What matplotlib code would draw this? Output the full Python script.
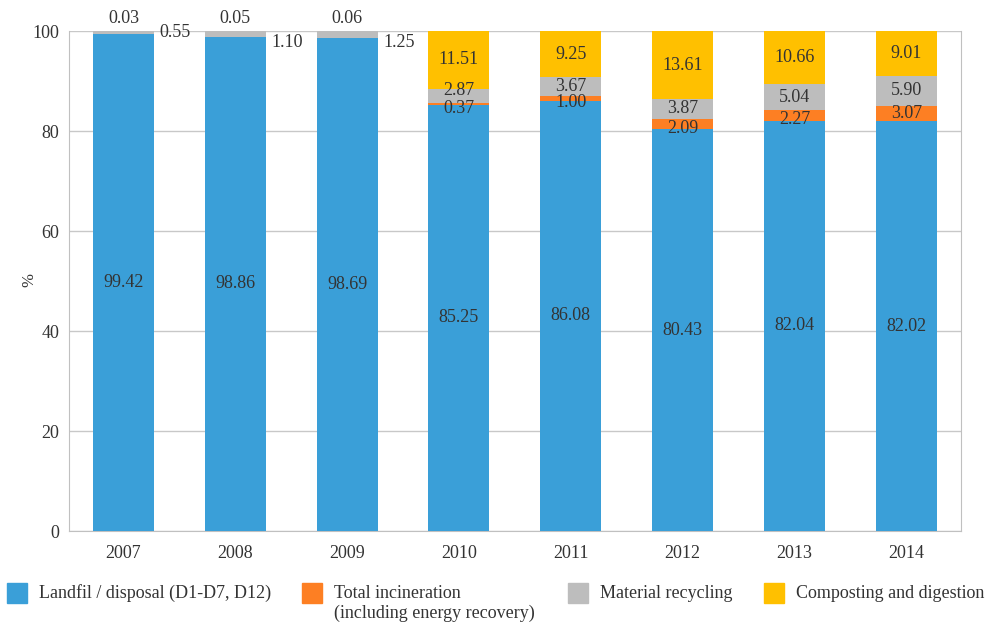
import matplotlib.pyplot as plt
from matplotlib.patches import Rectangle
import numpy as np

plt.rcParams['font.family'] = ['Liberation Serif', 'DejaVu Serif']

years = ['2007', '2008', '2009', '2010', '2011', '2012', '2013', '2014']
landfill = [99.42, 98.86, 98.69, 85.25, 86.08, 80.43, 82.04, 82.02]
incineration = [0.0, 0.0, 0.0, 0.37, 1.00, 2.09, 2.27, 3.07]
recycling = [0.55, 1.10, 1.25, 2.87, 3.67, 3.87, 5.04, 5.90]
composting = [0.03, 0.05, 0.06, 11.51, 9.25, 13.61, 10.66, 9.01]

series = [landfill, incineration, recycling, composting]
names = [['Landfil / disposal (D1-D7, D12)'],
         ['Total incineration', '(including energy recovery)'],
         ['Material recycling'], ['Composting and digestion']]
colors = ['#3a9fd8', '#fd7f23', '#bdbdbd', '#ffc000']
text_col = '#333333'
fs = 13

fig = plt.figure(figsize=(9.97, 6.24), dpi=100)
ax = fig.add_axes([0.0692, 0.149, 0.8948, 0.801])

x = np.arange(len(years))
w = 0.545
bottom = np.zeros(len(years))
for vals, c in zip(series, colors):
    ax.bar(x, vals, w, bottom=bottom, color=c, zorder=3)
    bottom += np.array(vals)

# label heights for the tiny recycling shares shown beside the first bars
side_y = [99.7, 97.8, 97.8]

for i in range(len(years)):
    base = 0.0
    for k, vals in enumerate(series):
        v = vals[i]
        mid = base + v / 2
        base += v
        if v == 0:
            continue
        lbl = f'{v:.2f}'
        if i < 3 and k == 3:
            ax.text(x[i], 100.8, lbl, ha='center', va='bottom', fontsize=fs, color=text_col)
        elif i < 3 and k == 2:
            ax.text(x[i] + w / 2 + 0.05, side_y[i], lbl, ha='left', va='center',
                    fontsize=fs, color=text_col, zorder=5)
        else:
            if k == 1 and v < 2.5:
                mid -= 0.9
            if k == 2 and v < 3:
                mid += 1.1
            ax.text(x[i], mid, lbl, ha='center', va='center', fontsize=fs,
                    color=text_col, zorder=5)

ax.set_xlim(-0.487, 7.49)
ax.set_ylim(0, 100)
ax.set_yticks([0, 20, 40, 60, 80, 100])
ax.set_xticks(x)
ax.set_xticklabels(years)
ax.tick_params(axis='x', length=0, labelsize=fs, colors=text_col, pad=10)
ax.tick_params(axis='y', length=0, labelsize=fs, colors=text_col, pad=7)
ax.grid(axis='y', color='#c8c8c8', linewidth=1, zorder=0)
for s in ['left', 'bottom', 'right']:
    ax.spines[s].set_color('#c0c0c0')
ax.spines['top'].set_visible(False)
ax.set_ylabel('%', fontsize=12, color=text_col)
ax.yaxis.set_label_coords(-0.035, 0.502)

# legend along the bottom
leg_x = [7, 302, 568, 764]
for lx, lines, c in zip(leg_x, names, colors):
    fig.patches.append(Rectangle((lx / 997, 21 / 624), 20 / 997, 20 / 624,
                                 transform=fig.transFigure, color=c, figure=fig))
    for j, line in enumerate(lines):
        fig.text((lx + 32) / 997, (624 - 593 - 20 * j) / 624, line, ha='left',
                 va='center', fontsize=fs, color=text_col)

fig.savefig('out.png', dpi=100)
